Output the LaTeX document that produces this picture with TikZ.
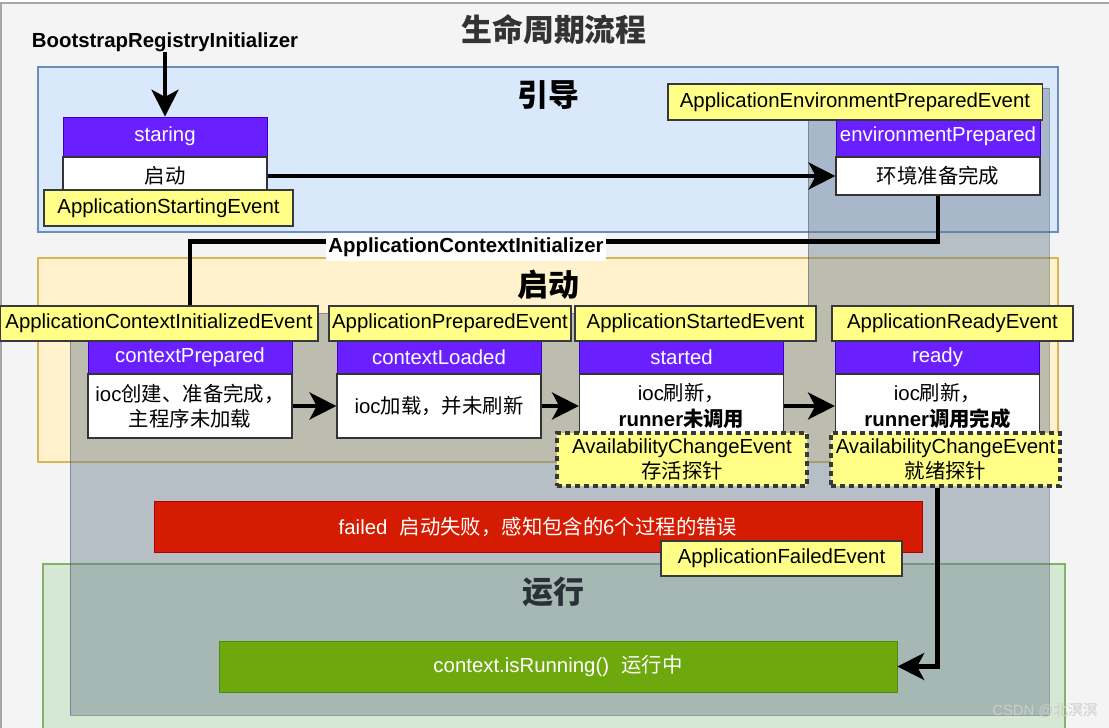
\documentclass[tikz,border=0pt]{standalone}
\usepackage{fontspec}
\setmainfont{Liberation Sans}
\newfontfamily\cjk{Noto Sans CJK SC}
\usetikzlibrary{arrows.meta,positioning}
\definecolor{pagebg}{HTML}{F4F4F4}
\definecolor{bootfill}{HTML}{DAE8FC}\definecolor{bootline}{HTML}{6C8EBF}
\definecolor{startfill}{HTML}{FFF2CC}\definecolor{startline}{HTML}{D6B656}
\definecolor{runfill}{HTML}{D5E8D4}\definecolor{runline}{HTML}{82B366}
\definecolor{shadefill}{HTML}{647687}\definecolor{shadeline}{HTML}{314354}
\definecolor{headfill}{HTML}{6A1FFF}\definecolor{headline}{HTML}{3700CC}
\definecolor{evtfill}{HTML}{FFFF88}\definecolor{evtline}{HTML}{36393D}
\definecolor{failfill}{HTML}{D51C02}\definecolor{failline}{HTML}{B20000}
\definecolor{okfill}{HTML}{6DA80D}\definecolor{okline}{HTML}{4D8A0F}
\newcommand\zh[1]{{\cjk #1}}

\begin{document}
\begin{tikzpicture}[x=0.025cm,y=-0.025cm,
    every node/.style={font=\fontsize{14.5}{18}\selectfont,inner sep=0pt},
    phase/.style 2 args={draw=#1,fill=#2,line width=0.8pt},
    phasetitle/.style={font=\fontsize{22}{26}\selectfont\bfseries},
    head/.style={draw=headline,fill=headfill,text=white,minimum width=5.1cm,line width=0.6pt},
    body/.style={draw=black!80,fill=white,minimum width=5.1cm,align=center,line width=0.8pt},
    evt/.style={draw=evtline,fill=evtfill,minimum height=0.875cm,line width=0.8pt},
    probe/.style={evt,draw=black!78,line width=3pt,dash pattern=on 3.4pt off 3pt,minimum height=1.325cm,align=center},
    flow/.style={line width=3.5pt,-{Stealth[length=19pt,width=19pt,inset=5pt]}},
    link/.style={line width=3.5pt}]

% page
\useasboundingbox (0,0) rectangle (1109,728);
\fill[white] (0,0) rectangle (1109,728);
\filldraw[fill=pagebg,draw=black!35,line width=1pt] (1,3) rectangle (1112,731);

% phases
\filldraw[phase={bootline}{bootfill}] (38,67) rectangle (1058,232);
\filldraw[phase={startline}{startfill}] (38,258) rectangle (1058,462);
\filldraw[phase={runline}{runfill}] (43,564) rectangle (1065,740);
\node[phasetitle] (boot) at (548,95) {\zh{引导}};
\node[phasetitle] (start) at (548,285) {\zh{启动}};
\node[phasetitle] (run) at (553,592) {\zh{运行}};
\node[phasetitle,text=black!80] (title) at (554,30) {\zh{生命周期流程}};

% shade
\filldraw[fill=shadefill,draw=shadeline,fill opacity=0.42,draw opacity=0.4] (808,88) -- (1049,88) -- (1049,715) -- (70,715) -- (70,313) -- (808,313) -- cycle;

% bootstrap
\node[font=\fontsize{14.5}{18}\selectfont\bfseries] (bri) at (165,42) {BootstrapRegistryInitializer};
\node[head,minimum height=0.975cm] (staring) at (165,136.5) {staring};
\node[body,minimum height=0.95cm,below=0pt of staring] (staring-b) {\zh{启动}};
\node[evt,minimum width=6.225cm,minimum height=0.9cm] (startingEvt) at (168.5,208) {ApplicationStartingEvent};
\node[head,minimum height=0.975cm] (env) at (938,136.5) {environmentPrepared};
\node[body,minimum height=0.95cm,below=0pt of env] (env-b) {\zh{环境准备完成}};
\node[evt,minimum width=9.35cm,minimum height=0.9cm] (envEvt) at (855,102) {ApplicationEnvironmentPreparedEvent};

% start
\node[head,minimum height=0.8cm] (cprep) at (190,357) {contextPrepared};
\node[body,minimum height=1.6cm,below=0pt of cprep] (cprep-b) {ioc\zh{创建、准备完成，}\\\zh{主程序未加载}};
\node[head,minimum height=0.8cm] (cload) at (439,357) {contextLoaded};
\node[body,minimum height=1.6cm,below=0pt of cload] (cload-b) {ioc\zh{加载，并未刷新}};
\node[head,minimum height=0.8cm] (started) at (681.5,357) {started};
\node[body,minimum height=1.6cm,below=0pt of started] (started-b) {ioc\zh{刷新，}\\\textbf{runner\zh{未调用}}};
\node[head,minimum height=0.8cm] (ready) at (937.5,357) {ready};
\node[body,minimum height=1.6cm,below=0pt of ready] (ready-b) {ioc\zh{刷新，}\\\textbf{runner\zh{调用完成}}};
\node[evt,minimum width=7.95cm] (ctxInitEvt) at (159,323.5) {ApplicationContextInitializedEvent};
\node[evt,minimum width=6.05cm] (prepEvt) at (450,323.5) {ApplicationPreparedEvent};
\node[evt,minimum width=6.025cm] (startedEvt) at (695.5,323.5) {ApplicationStartedEvent};
\node[evt,minimum width=6.025cm] (readyEvt) at (952.5,323.5) {ApplicationReadyEvent};
\node[probe,minimum width=6.25cm] (liveProbe) at (682,459.5) {AvailabilityChangeEvent\\\zh{存活探针}};
\node[probe,minimum width=5.725cm] (readyProbe) at (945.5,459.5) {AvailabilityChangeEvent\\\zh{就绪探针}};

% failed / running
\node[draw=failline,fill=failfill,text=white,minimum width=19.2cm,minimum height=1.275cm] (failed) at (538,526.5) {failed\hspace{0.6em}\zh{启动失败，感知包含的6个过程的错误}};
\node[evt,minimum width=6.025cm] (failedEvt) at (781.5,558.5) {ApplicationFailedEvent};
\node[draw=okline,fill=okfill,text=white,minimum width=16.95cm,minimum height=1.275cm] (running) at (558,666.5) {context.isRunning()\hspace{0.6em}\zh{运行中}};

% connectors
\draw[flow] (bri) -- (staring);
\draw[flow] (staring-b) -- (env-b);
\draw[link] (env-b.south) -- ++(0,46) -| (cprep |- ctxInitEvt.north);
\node[fill=white,font=\fontsize{14.5}{18}\selectfont\bfseries,inner xsep=2pt,inner ysep=3pt] (ctxInit) at (466,247) {ApplicationContextInitializer};
\foreach \a/\b in {cprep-b/cload-b,cload-b/started-b,started-b/ready-b}
  \draw[flow] (\a) -- (\b);
\draw[flow] (ready-b |- readyProbe.south) |- (running.east);

\node[text=white!80!black,font=\fontsize{10.5}{12}\selectfont] (mark) at (1045,710) {CSDN @\zh{北溟溟}};
\end{tikzpicture}
\end{document}
